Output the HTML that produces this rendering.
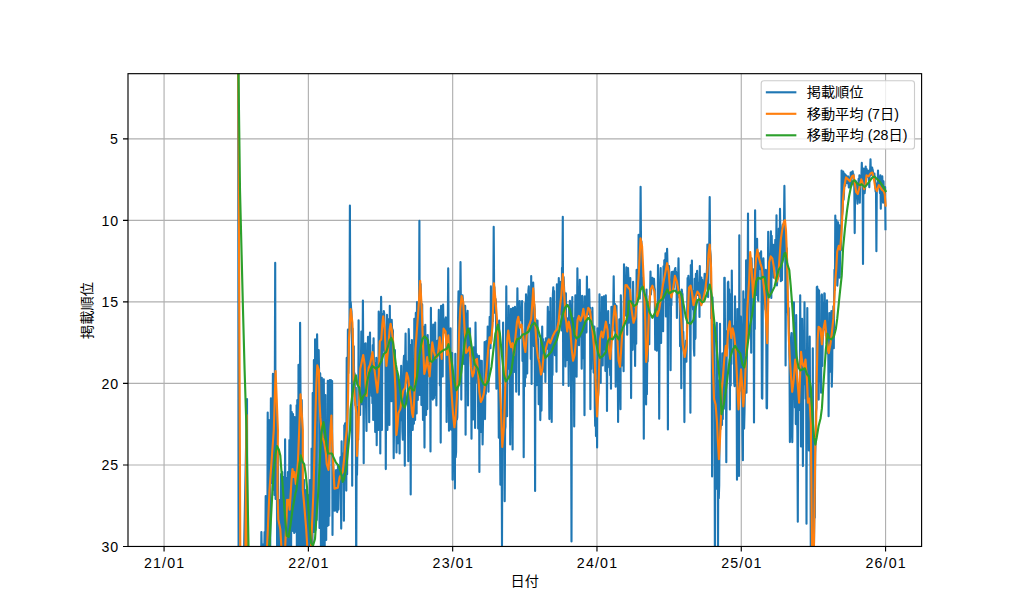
<!DOCTYPE html>
<html lang="ja"><head><meta charset="utf-8"><title>掲載順位</title>
<style>html,body{margin:0;padding:0;background:#fff;}body{width:1024px;height:614px;overflow:hidden;}svg{display:block;}text{font-family:"Liberation Sans", "Noto Sans CJK JP", sans-serif;font-size:14.2px;fill:#000;}</style></head><body>
<svg width="1024" height="614" viewBox="0 0 1024 614">
<rect width="1024" height="614" fill="#fff"/>
<defs><clipPath id="c"><rect x="128.00" y="73.68" width="793.60" height="472.78"/></clipPath></defs>
<path d="M164.07 73.68V546.46M308.37 73.68V546.46M452.67 73.68V546.46M596.97 73.68V546.46M741.27 73.68V546.46M885.57 73.68V546.46M128.00 138.89H921.60M128.00 220.40H921.60M128.00 301.92H921.60M128.00 383.43H921.60M128.00 464.95H921.60" stroke="#b0b0b0" stroke-width="1.14" fill="none"/>
<path d="M164.07 546.46v5M308.37 546.46v5M452.67 546.46v5M596.97 546.46v5M741.27 546.46v5M885.57 546.46v5M128.00 138.89h-5M128.00 220.40h-5M128.00 301.92h-5M128.00 383.43h-5M128.00 464.95h-5M128.00 546.46h-5" stroke="#000" stroke-width="1.14" fill="none"/>
<g clip-path="url(#c)" fill="none" stroke-width="2.13" stroke-linejoin="round" stroke-linecap="butt">
<polyline stroke="#1f77b4" points="238.2,73.0 238.6,575.0 243.6,575.0 247.0,399.0 247.3,575.0 260.8,575.0 261.0,575.0 261.4,532.0 261.8,553.0 262.2,549.4 262.6,547.9 263.0,544.5 263.4,553.8 263.8,545.1 264.2,555.5 264.6,532.0 264.9,575.0 265.3,549.9 265.7,496.0 266.1,548.5 266.5,575.0 266.9,546.4 267.3,563.7 267.7,412.5 268.1,575.0 268.5,524.3 268.9,420.0 269.3,501.7 269.7,485.7 270.1,575.0 270.5,476.5 270.9,398.3 271.3,483.0 271.7,456.6 272.1,408.0 272.5,483.0 272.9,373.9 273.2,440.4 273.6,490.0 274.0,382.0 274.4,495.0 274.8,394.3 275.2,262.7 275.6,499.0 276.0,398.6 276.4,419.6 276.8,443.9 277.2,575.0 277.6,461.6 278.0,451.3 278.4,575.0 278.8,525.5 279.2,529.7 279.6,500.0 280.0,529.6 280.4,575.0 280.8,531.2 281.1,474.0 281.5,575.0 281.9,567.1 282.3,472.0 282.7,580.8 283.1,575.0 283.5,477.0 283.9,581.1 284.3,575.0 284.7,573.1 285.1,439.3 285.5,532.1 285.9,575.0 286.3,517.8 286.7,478.0 287.1,575.0 287.5,500.7 287.9,472.0 288.3,499.6 288.6,575.0 289.0,511.7 289.4,440.0 289.8,575.0 290.2,496.8 290.6,405.2 291.0,575.0 291.4,478.5 291.8,412.0 292.2,531.0 292.6,474.8 293.0,414.0 293.4,475.6 293.8,478.4 294.2,533.0 294.6,417.0 295.0,482.3 295.4,485.0 295.8,481.3 296.2,532.0 296.6,405.2 296.9,575.0 297.3,400.0 297.7,472.5 298.1,575.0 298.5,364.7 298.9,431.6 299.3,575.0 299.7,535.0 300.1,322.7 300.5,392.1 300.9,575.0 301.3,408.7 301.7,400.0 302.1,420.1 302.5,575.0 302.9,493.9 303.3,493.9 303.7,492.5 304.1,480.0 304.4,507.5 304.8,575.0 305.2,516.5 305.6,514.5 306.0,490.0 306.4,537.0 306.8,575.0 307.2,546.6 307.6,556.6 308.0,495.0 308.4,572.1 308.8,575.4 309.2,575.0 309.6,579.4 310.0,480.0 310.4,575.3 310.8,575.0 311.2,541.1 311.6,448.6 312.0,522.9 312.4,575.0 312.7,393.0 313.1,501.5 313.5,532.0 313.9,360.0 314.3,532.0 314.7,444.1 315.1,339.3 315.5,530.0 315.9,345.0 316.3,384.9 316.7,520.0 317.1,334.4 317.5,367.7 317.9,371.5 318.3,368.0 318.7,350.0 319.1,373.5 319.5,528.0 319.9,413.9 320.2,373.4 320.6,418.8 321.0,575.0 321.4,430.5 321.8,377.8 322.2,441.6 322.6,433.1 323.0,575.0 323.4,435.7 323.8,379.3 324.2,442.6 324.6,575.0 325.0,448.6 325.4,395.0 325.8,459.2 326.2,540.0 326.6,460.7 327.0,459.5 327.4,526.0 327.8,380.8 328.1,424.9 328.5,525.2 328.9,481.0 329.3,515.9 329.7,380.0 330.1,415.5 330.5,424.8 330.9,380.0 331.3,410.2 331.7,422.1 332.1,381.0 332.5,535.0 332.9,455.7 333.3,469.1 333.7,471.4 334.1,478.0 334.5,510.8 334.9,475.1 335.3,507.9 335.7,510.5 336.1,470.0 336.4,485.4 336.8,481.6 337.2,512.1 337.6,491.4 338.0,465.0 338.4,509.6 338.8,485.2 339.2,476.7 339.6,483.3 340.0,480.8 340.4,457.4 340.8,474.6 341.2,528.6 341.6,441.2 342.0,475.5 342.4,470.1 342.8,453.5 343.2,474.3 343.6,463.0 343.9,520.8 344.3,425.2 344.7,432.4 345.1,423.4 345.5,437.0 345.9,438.7 346.3,490.6 346.7,357.9 347.1,474.2 347.5,411.5 347.9,329.6 348.3,373.3 348.7,355.5 349.1,335.0 349.5,330.4 349.9,205.6 350.3,314.0 350.7,302.0 351.1,308.3 351.5,311.2 351.9,324.5 352.2,485.7 352.6,328.5 353.0,345.5 353.4,366.2 353.8,346.2 354.2,391.3 354.6,373.3 355.0,401.4 355.4,405.4 355.8,387.6 356.2,575.0 356.6,460.5 357.0,475.0 357.4,449.6 357.8,406.8 358.2,439.8 358.6,320.3 359.0,413.1 359.4,392.1 359.8,391.7 360.1,415.0 360.5,373.5 360.9,367.7 361.3,331.5 361.7,404.2 362.1,352.7 362.5,373.6 362.9,300.5 363.3,360.4 363.7,463.2 364.1,343.5 364.5,360.4 364.9,351.4 365.3,376.5 365.7,343.2 366.1,408.1 366.5,431.0 366.9,369.8 367.3,359.9 367.6,386.2 368.0,336.9 368.4,367.9 368.8,360.1 369.2,422.3 369.6,343.1 370.0,332.5 370.4,378.7 370.8,362.6 371.2,383.6 371.6,395.9 372.0,353.5 372.4,403.3 372.8,345.1 373.2,420.0 373.6,338.3 374.0,370.9 374.4,386.8 374.8,362.7 375.2,432.0 375.6,365.5 375.9,383.2 376.3,357.9 376.7,445.2 377.1,388.5 377.5,406.5 377.9,414.8 378.3,430.0 378.7,311.5 379.1,320.9 379.5,338.1 379.9,342.6 380.3,453.5 380.7,337.5 381.1,296.9 381.5,326.6 381.9,430.0 382.3,347.4 382.7,317.0 383.1,313.8 383.4,349.6 383.8,311.0 384.2,313.1 384.6,352.0 385.0,335.8 385.4,347.2 385.8,469.1 386.2,362.0 386.6,333.8 387.0,314.9 387.4,430.0 387.8,382.2 388.2,352.3 388.6,319.3 389.0,326.8 389.4,425.0 389.8,305.7 390.2,362.9 390.6,323.4 391.0,325.6 391.4,401.3 391.7,319.8 392.1,329.6 392.5,329.2 392.9,330.5 393.3,391.8 393.7,458.3 394.1,416.1 394.5,404.4 394.9,350.0 395.3,380.4 395.7,418.0 396.1,383.1 396.5,452.5 396.9,372.0 397.3,443.4 397.7,443.3 398.1,440.2 398.5,414.0 398.9,380.0 399.2,416.9 399.6,453.5 400.0,410.1 400.4,420.2 400.8,389.4 401.2,365.7 401.6,389.4 402.0,402.6 402.4,431.3 402.8,439.8 403.2,407.8 403.6,362.9 404.0,355.9 404.4,382.9 404.8,465.7 405.2,359.9 405.6,333.5 406.0,382.0 406.4,361.1 406.8,377.1 407.1,374.2 407.5,377.7 407.9,376.1 408.3,461.3 408.7,329.1 409.1,339.5 409.5,391.8 409.9,396.3 410.3,345.0 410.7,494.4 411.1,382.8 411.5,389.8 411.9,340.0 412.3,412.0 412.7,430.0 413.1,415.6 413.5,391.2 413.9,423.8 414.3,318.8 414.7,401.9 415.1,420.0 415.4,387.0 415.8,312.9 416.2,340.1 416.6,413.5 417.0,302.0 417.4,310.6 417.8,400.0 418.2,338.6 418.6,305.9 419.0,342.5 419.4,220.9 419.8,395.0 420.2,315.7 420.6,284.1 421.0,300.0 421.4,405.0 421.8,308.6 422.2,304.4 422.6,380.0 423.0,420.0 423.3,330.0 423.7,326.9 424.1,374.8 424.5,447.6 424.9,366.2 425.3,324.7 425.7,364.5 426.1,415.0 426.5,362.3 426.9,356.1 427.3,409.1 427.7,335.0 428.1,363.3 428.5,364.0 428.9,344.8 429.3,374.5 429.7,376.2 430.1,371.6 430.5,451.4 430.9,307.9 431.2,351.7 431.6,352.6 432.0,349.7 432.4,373.4 432.8,399.6 433.2,324.5 433.6,349.0 434.0,398.1 434.4,351.4 434.8,394.1 435.2,322.6 435.6,394.9 436.0,373.5 436.4,405.4 436.8,343.9 437.2,340.9 437.6,355.3 438.0,354.4 438.4,349.6 438.8,309.9 439.1,334.2 439.5,327.1 439.9,385.5 440.3,344.5 440.7,442.6 441.1,305.9 441.5,358.6 441.9,328.3 442.3,325.7 442.7,376.4 443.1,304.6 443.5,329.0 443.9,326.4 444.3,326.3 444.7,332.5 445.1,330.7 445.5,318.7 445.9,317.4 446.3,342.6 446.6,422.0 447.0,379.4 447.4,352.5 447.8,326.8 448.2,268.4 448.6,332.4 449.0,430.8 449.4,362.0 449.8,365.3 450.2,403.0 450.6,328.4 451.0,429.6 451.4,362.5 451.8,397.2 452.2,353.0 452.6,479.7 453.0,407.5 453.4,425.3 453.8,416.6 454.2,381.2 454.6,444.0 454.9,488.5 455.3,353.8 455.7,457.1 456.1,452.0 456.5,394.8 456.9,419.6 457.3,417.1 457.7,395.9 458.1,316.5 458.5,291.3 458.9,334.7 459.3,381.5 459.7,301.8 460.1,313.0 460.5,262.0 460.9,303.2 461.3,399.6 461.7,302.4 462.1,298.9 462.5,295.4 462.8,299.1 463.2,304.5 463.6,306.3 464.0,364.0 464.4,325.2 464.8,337.1 465.2,305.9 465.6,434.7 466.0,323.2 466.4,352.1 466.8,313.2 467.2,354.6 467.6,310.8 468.0,405.4 468.4,335.0 468.8,341.0 469.2,351.0 469.6,347.1 470.0,328.4 470.4,355.7 470.7,348.3 471.1,348.2 471.5,438.7 471.9,371.4 472.3,378.1 472.7,368.9 473.1,419.5 473.5,347.2 473.9,388.2 474.3,393.1 474.7,373.3 475.1,427.9 475.5,322.6 475.9,355.6 476.3,356.9 476.7,354.1 477.1,356.6 477.5,382.8 477.9,363.6 478.2,428.5 478.6,397.8 479.0,355.8 479.4,471.9 479.8,360.2 480.2,364.7 480.6,370.3 481.0,432.0 481.4,366.4 481.8,360.7 482.2,405.6 482.6,444.5 483.0,420.0 483.4,391.1 483.8,389.3 484.2,387.5 484.6,342.1 485.0,419.1 485.4,385.6 485.8,394.0 486.1,385.9 486.5,340.8 486.9,365.9 487.3,359.9 487.7,326.5 488.1,342.0 488.5,391.7 488.9,343.0 489.3,338.0 489.7,316.7 490.1,326.9 490.5,348.3 490.9,286.4 491.3,341.1 491.7,335.0 492.1,326.1 492.5,318.6 492.9,321.3 493.3,308.9 493.7,226.8 494.1,289.3 494.4,287.0 494.8,312.7 495.2,301.9 495.6,299.0 496.0,303.3 496.4,388.8 496.8,318.7 497.2,323.6 497.6,333.4 498.0,369.5 498.4,374.0 498.8,437.7 499.2,320.6 499.6,374.3 500.0,431.5 500.4,484.8 500.8,410.9 501.2,420.1 501.6,428.9 502.0,545.8 502.3,444.1 502.7,445.4 503.1,322.6 503.5,431.3 503.9,387.2 504.3,413.0 504.7,501.2 505.1,429.7 505.5,426.5 505.9,368.2 506.3,286.4 506.7,356.0 507.1,416.2 507.5,365.3 507.9,338.7 508.3,368.7 508.7,305.9 509.1,337.3 509.5,338.3 509.9,337.2 510.2,444.5 510.6,352.5 511.0,308.9 511.4,340.5 511.8,344.6 512.2,370.9 512.6,449.4 513.0,307.9 513.4,348.7 513.8,358.1 514.2,372.0 514.6,341.3 515.0,306.9 515.4,329.7 515.8,321.9 516.2,391.7 516.6,309.3 517.0,326.6 517.4,288.3 517.8,320.8 518.1,316.6 518.5,305.3 518.9,394.7 519.3,312.4 519.7,301.1 520.1,318.4 520.5,315.0 520.9,319.1 521.3,320.4 521.7,320.5 522.1,301.1 522.5,361.0 522.9,335.5 523.3,335.0 523.7,457.2 524.1,340.7 524.5,383.0 524.9,386.3 525.3,303.0 525.7,377.6 526.0,294.2 526.4,299.3 526.8,340.7 527.2,373.4 527.6,328.2 528.0,327.6 528.4,290.9 528.8,286.4 529.2,306.9 529.6,322.2 530.0,296.2 530.4,315.6 530.8,358.9 531.2,276.0 531.6,383.9 532.0,288.3 532.4,305.5 532.8,301.1 533.2,282.5 533.5,293.3 533.9,346.2 534.3,304.0 534.7,309.9 535.1,491.0 535.5,318.7 535.9,355.7 536.3,341.0 536.7,385.3 537.1,352.4 537.5,320.6 537.9,352.3 538.3,339.4 538.7,404.2 539.1,359.7 539.5,360.1 539.9,362.7 540.3,420.1 540.7,377.0 541.1,336.4 541.5,410.6 541.8,371.8 542.2,326.5 542.6,363.2 543.0,339.0 543.4,362.1 543.8,362.4 544.2,371.9 544.6,351.5 545.0,342.1 545.4,382.0 545.8,338.2 546.2,347.0 546.6,343.8 547.0,348.8 547.4,338.1 547.8,306.9 548.2,344.9 548.6,347.5 549.0,378.5 549.4,419.1 549.7,311.5 550.1,336.0 550.5,298.1 550.9,378.1 551.3,376.4 551.7,422.0 552.1,335.6 552.5,374.9 552.9,294.4 553.3,287.4 553.7,335.2 554.1,291.0 554.5,349.9 554.9,355.2 555.3,331.4 555.7,335.5 556.1,334.8 556.5,371.7 556.9,284.4 557.2,334.5 557.6,323.3 558.0,324.9 558.4,317.6 558.8,278.0 559.2,314.8 559.6,282.5 560.0,308.5 560.4,288.0 560.8,281.8 561.2,296.9 561.6,330.4 562.0,267.8 562.4,277.0 562.8,216.8 563.2,384.9 563.6,277.1 564.0,286.4 564.4,295.4 564.8,349.3 565.2,317.3 565.5,366.5 565.9,293.2 566.3,353.7 566.7,360.1 567.1,319.2 567.5,328.4 567.9,318.2 568.3,321.0 568.7,385.9 569.1,305.0 569.5,328.5 569.9,300.8 570.3,315.3 570.7,309.4 571.1,392.8 571.5,541.5 571.9,317.1 572.3,297.1 572.7,353.2 573.0,361.2 573.4,318.1 573.8,356.4 574.2,426.5 574.6,355.3 575.0,331.1 575.4,295.2 575.8,341.3 576.2,339.0 576.6,376.8 577.0,327.7 577.4,268.2 577.8,311.4 578.2,341.9 578.6,310.5 579.0,345.3 579.4,311.2 579.8,279.9 580.2,324.0 580.6,321.9 581.0,336.9 581.3,318.5 581.7,368.7 582.1,295.8 582.5,296.2 582.9,310.9 583.3,358.3 583.7,310.9 584.1,309.9 584.5,415.2 584.9,296.2 585.3,322.0 585.7,321.7 586.1,319.1 586.5,332.4 586.9,276.6 587.3,306.6 587.7,306.0 588.1,314.5 588.5,301.5 588.9,306.1 589.2,289.3 589.6,307.6 590.0,307.6 590.4,409.3 590.8,312.0 591.2,369.0 591.6,318.5 592.0,355.5 592.4,307.9 592.8,334.4 593.2,345.8 593.6,372.6 594.0,362.1 594.4,326.5 594.8,408.1 595.2,425.9 595.6,380.0 596.0,436.1 596.4,399.7 596.8,406.8 597.1,447.4 597.5,328.4 597.9,397.4 598.3,392.9 598.7,382.7 599.1,362.4 599.5,294.2 599.9,376.4 600.3,342.2 600.7,382.9 601.1,315.1 601.5,335.0 601.9,297.1 602.3,335.7 602.7,365.4 603.1,315.8 603.5,327.9 603.9,296.2 604.3,349.5 604.7,302.6 605.0,311.7 605.4,371.0 605.8,295.2 606.2,324.4 606.6,326.1 607.0,410.9 607.4,328.4 607.8,367.4 608.2,311.1 608.6,345.0 609.0,324.5 609.4,348.0 609.8,358.8 610.2,375.2 610.6,352.9 611.0,388.8 611.4,306.9 611.8,339.5 612.2,317.6 612.5,319.0 612.9,325.7 613.3,308.8 613.7,276.2 614.1,310.9 614.5,330.5 614.9,303.7 615.3,305.5 615.7,386.8 616.1,316.8 616.5,305.9 616.9,351.6 617.3,340.6 617.7,345.1 618.1,422.0 618.5,339.2 618.9,381.7 619.3,319.4 619.7,325.9 620.1,385.8 620.5,409.3 620.8,295.2 621.2,307.9 621.6,362.0 622.0,344.9 622.4,365.4 622.8,328.1 623.2,329.8 623.6,371.3 624.0,264.3 624.4,304.8 624.8,289.0 625.2,315.5 625.6,281.7 626.0,288.6 626.4,267.4 626.8,306.7 627.2,334.7 627.6,306.0 628.0,268.0 628.4,276.9 628.7,322.7 629.1,287.8 629.5,291.6 629.9,288.8 630.3,278.1 630.7,323.2 631.1,398.1 631.5,302.8 631.9,312.0 632.3,347.6 632.7,349.8 633.1,281.8 633.5,302.2 633.9,317.5 634.3,327.5 634.7,321.7 635.1,366.0 635.5,315.4 635.9,307.0 636.2,343.7 636.6,269.9 637.0,299.7 637.4,296.5 637.8,288.2 638.2,281.3 638.6,234.7 639.0,263.5 639.4,258.2 639.8,298.6 640.2,250.3 640.6,186.8 641.0,242.4 641.4,241.3 641.8,277.8 642.2,287.7 642.6,277.8 643.0,280.9 643.4,301.3 643.8,438.7 644.2,293.8 644.5,305.7 644.9,327.0 645.3,325.7 645.7,303.8 646.1,404.5 646.5,289.5 646.9,394.2 647.3,349.7 647.7,361.6 648.1,339.1 648.5,326.4 648.9,301.9 649.3,344.2 649.7,296.0 650.1,294.7 650.5,271.5 650.9,294.4 651.3,288.5 651.7,281.0 652.0,281.1 652.4,277.8 652.8,282.1 653.2,278.7 653.6,284.9 654.0,278.7 654.4,287.1 654.8,289.5 655.2,349.8 655.6,309.2 656.0,306.9 656.4,310.2 656.8,350.7 657.2,304.1 657.6,317.8 658.0,265.0 658.4,317.7 658.8,312.4 659.2,418.8 659.6,307.9 660.0,306.6 660.3,279.9 660.7,268.0 661.1,343.0 661.5,294.4 661.9,294.1 662.3,294.8 662.7,328.7 663.1,331.2 663.5,266.2 663.9,298.0 664.3,260.2 664.7,270.2 665.1,293.5 665.5,253.3 665.9,316.4 666.3,263.8 666.7,261.4 667.1,248.8 667.5,265.0 667.9,429.5 668.2,276.8 668.6,267.8 669.0,266.0 669.4,274.7 669.8,286.2 670.2,287.3 670.6,370.3 671.0,301.2 671.4,305.2 671.8,272.0 672.2,284.1 672.6,271.9 673.0,291.7 673.4,271.8 673.8,288.0 674.2,283.6 674.6,271.5 675.0,268.9 675.4,268.0 675.8,279.9 676.1,271.9 676.5,275.2 676.9,317.9 677.3,278.6 677.7,289.3 678.1,283.0 678.5,258.2 678.9,286.8 679.3,297.7 679.7,294.1 680.1,346.3 680.5,308.1 680.9,311.2 681.3,388.3 681.7,289.5 682.1,292.4 682.5,294.4 682.9,344.1 683.3,331.9 683.7,348.9 684.0,351.8 684.4,422.1 684.8,355.4 685.2,356.9 685.6,352.9 686.0,340.6 686.4,361.8 686.8,345.9 687.2,310.3 687.6,278.1 688.0,289.5 688.4,275.8 688.8,283.4 689.2,290.0 689.6,285.6 690.0,291.5 690.4,412.7 690.8,265.0 691.2,291.1 691.5,291.7 691.9,260.5 692.3,291.1 692.7,304.0 693.1,309.6 693.5,291.0 693.9,348.7 694.3,355.6 694.7,278.7 695.1,339.1 695.5,338.0 695.9,273.8 696.3,288.3 696.7,295.2 697.1,270.9 697.5,282.2 697.9,287.4 698.3,294.9 698.7,289.0 699.1,284.9 699.5,316.9 699.8,266.0 700.2,300.8 700.6,303.0 701.0,304.4 701.4,277.5 701.8,302.0 702.2,279.7 702.6,301.6 703.0,293.7 703.4,299.5 703.8,282.6 704.2,289.0 704.6,273.8 705.0,282.2 705.4,289.4 705.8,282.6 706.2,275.4 706.6,275.0 707.0,268.6 707.4,244.5 707.7,260.4 708.1,297.1 708.5,262.0 708.9,251.7 709.3,242.6 709.7,197.0 710.1,249.6 710.5,253.8 710.9,260.2 711.3,318.6 711.7,308.1 712.1,476.5 712.5,297.3 712.9,386.5 713.3,374.7 713.7,367.2 714.1,324.7 714.5,403.4 714.9,555.1 715.2,407.2 715.6,403.8 716.0,412.2 716.4,488.6 716.8,322.8 717.2,388.9 717.6,380.1 718.0,555.1 718.4,428.2 718.8,498.2 719.2,484.9 719.6,419.7 720.0,323.8 720.4,429.2 720.8,424.4 721.2,403.1 721.6,400.5 722.0,424.9 722.4,353.3 722.8,419.1 723.2,375.7 723.5,364.1 723.9,408.7 724.3,277.8 724.7,277.8 725.1,352.5 725.5,348.1 725.9,331.0 726.3,462.2 726.7,352.3 727.1,348.1 727.5,337.9 727.9,282.6 728.3,281.7 728.7,330.0 729.1,289.2 729.5,305.2 729.9,409.4 730.3,294.5 730.7,385.5 731.0,328.4 731.4,364.0 731.8,270.5 732.2,324.1 732.6,328.0 733.0,330.7 733.4,332.9 733.8,326.3 734.2,382.6 734.6,386.1 735.0,296.3 735.4,340.6 735.8,322.1 736.2,384.6 736.6,368.2 737.0,479.8 737.4,309.1 737.8,400.1 738.2,399.4 738.6,371.4 739.0,475.9 739.3,235.3 739.7,390.9 740.1,348.4 740.5,342.1 740.9,316.6 741.3,332.1 741.7,373.4 742.1,385.5 742.5,436.4 742.9,460.2 743.3,291.4 743.7,364.7 744.1,428.6 744.5,411.5 744.9,384.9 745.3,299.3 745.7,364.2 746.1,260.2 746.5,392.8 746.9,351.6 747.2,282.7 747.6,309.5 748.0,213.6 748.4,338.4 748.8,272.5 749.2,273.6 749.6,268.8 750.0,257.1 750.4,261.7 750.8,289.0 751.2,352.7 751.6,258.2 752.0,276.2 752.4,287.2 752.8,290.1 753.2,294.9 753.6,269.3 754.0,422.5 754.4,274.2 754.8,329.1 755.1,210.3 755.5,269.0 755.9,261.6 756.3,253.7 756.7,294.9 757.1,238.7 757.5,281.9 757.9,299.2 758.3,300.7 758.7,257.6 759.1,257.0 759.5,253.4 759.9,259.2 760.3,261.4 760.7,269.5 761.1,251.4 761.5,289.8 761.9,398.1 762.3,398.6 762.7,321.7 763.0,267.8 763.4,258.2 763.8,269.5 764.2,289.2 764.6,293.2 765.0,304.8 765.4,309.4 765.8,269.9 766.2,316.3 766.6,408.0 767.0,408.3 767.4,362.2 767.8,290.7 768.2,231.8 768.6,289.9 769.0,290.4 769.4,254.6 769.8,256.9 770.2,295.8 770.5,255.6 770.9,231.4 771.3,297.9 771.7,235.8 772.1,261.5 772.5,262.2 772.9,258.2 773.3,244.9 773.7,277.8 774.1,275.1 774.5,270.9 774.9,253.9 775.3,239.7 775.7,265.5 776.1,259.1 776.5,215.2 776.9,285.5 777.3,280.2 777.7,278.5 778.1,273.4 778.5,276.6 778.8,228.6 779.2,230.4 779.6,262.3 780.0,208.9 780.4,234.5 780.8,281.2 781.2,231.9 781.6,234.4 782.0,280.2 782.4,228.9 782.8,224.5 783.2,256.4 783.6,225.4 784.0,225.1 784.4,185.9 784.8,226.8 785.2,229.4 785.6,365.4 786.0,249.0 786.4,276.9 786.7,248.4 787.1,263.0 787.5,312.2 787.9,299.6 788.3,315.0 788.7,308.1 789.1,341.1 789.5,360.7 789.9,442.1 790.3,399.0 790.7,388.3 791.1,338.4 791.5,333.0 791.9,432.8 792.3,442.1 792.7,408.1 793.1,349.0 793.5,377.2 793.9,302.3 794.2,377.1 794.6,370.5 795.0,407.6 795.4,323.1 795.8,424.1 796.2,315.0 796.6,367.2 797.0,404.8 797.4,433.1 797.8,521.8 798.2,385.1 798.6,400.6 799.0,404.3 799.4,398.5 799.8,409.9 800.2,295.3 800.6,361.0 801.0,446.5 801.4,360.7 801.8,349.5 802.1,318.9 802.5,358.7 802.9,466.1 803.3,365.2 803.7,368.1 804.1,384.1 804.5,302.3 804.9,358.2 805.3,369.1 805.7,398.7 806.1,350.2 806.5,523.8 806.9,376.2 807.3,308.1 807.7,389.8 808.1,426.4 808.5,353.9 808.9,450.5 809.3,398.7 809.7,336.5 810.1,407.0 810.4,414.5 810.8,555.1 811.2,447.3 811.6,521.7 812.0,553.3 812.4,560.4 812.8,348.2 813.2,519.4 813.6,565.6 814.0,543.7 814.4,506.3 814.8,517.7 815.2,452.8 815.6,441.0 816.0,411.6 816.4,407.7 816.8,287.1 817.2,286.6 817.6,344.0 818.0,367.8 818.3,289.6 818.7,399.6 819.1,290.5 819.5,381.5 819.9,330.1 820.3,332.5 820.7,335.6 821.1,392.7 821.5,295.3 821.9,294.4 822.3,366.0 822.7,341.0 823.1,330.7 823.5,302.5 823.9,329.5 824.3,293.4 824.7,293.5 825.1,323.8 825.5,317.7 825.9,335.8 826.2,322.4 826.6,343.6 827.0,300.3 827.4,353.5 827.8,351.0 828.2,327.5 828.6,416.2 829.0,348.6 829.4,313.0 829.8,346.1 830.2,336.5 830.6,371.7 831.0,332.6 831.4,311.1 831.8,386.8 832.2,366.6 832.6,315.4 833.0,346.8 833.4,306.2 833.8,348.2 834.1,303.0 834.5,269.8 834.9,290.1 835.3,215.5 835.7,269.5 836.1,252.9 836.5,220.4 836.9,255.7 837.3,285.6 837.7,278.8 838.1,222.3 838.5,241.2 838.9,241.4 839.3,225.3 839.7,277.8 840.1,252.4 840.5,242.2 840.9,250.2 841.3,236.2 841.6,170.5 842.0,215.6 842.4,212.4 842.8,208.9 843.2,171.5 843.6,199.6 844.0,193.1 844.4,173.5 844.8,174.2 845.2,185.7 845.6,179.2 846.0,175.4 846.4,177.8 846.8,177.3 847.2,183.2 847.6,179.5 848.0,176.4 848.4,177.0 848.8,187.5 849.2,184.4 849.6,182.8 849.9,187.3 850.3,185.8 850.7,172.5 851.1,183.4 851.5,172.3 851.9,175.3 852.3,174.1 852.7,171.3 853.1,176.2 853.5,174.4 853.9,182.8 854.3,185.8 854.7,233.1 855.1,185.4 855.5,188.8 855.9,181.3 856.3,196.6 856.7,183.4 857.1,198.1 857.5,203.8 857.8,190.6 858.2,191.6 858.6,178.7 859.0,193.7 859.4,175.4 859.8,202.8 860.2,181.5 860.6,179.6 861.0,180.0 861.4,176.2 861.8,162.7 862.2,178.5 862.6,178.0 863.0,264.0 863.4,180.8 863.8,168.6 864.2,190.8 864.6,193.2 865.0,188.9 865.4,184.2 865.7,166.6 866.1,176.3 866.5,168.9 866.9,175.0 867.3,172.4 867.7,170.5 868.1,177.1 868.5,175.7 868.9,180.7 869.3,187.1 869.7,170.4 870.1,171.6 870.5,159.4 870.9,175.3 871.3,167.9 871.7,169.6 872.1,167.5 872.5,169.6 872.9,171.0 873.2,178.1 873.6,175.8 874.0,174.4 874.4,173.5 874.8,179.3 875.2,184.2 875.6,191.4 876.0,187.9 876.4,251.3 876.8,183.3 877.2,183.8 877.6,186.5 878.0,170.5 878.4,185.6 878.8,179.5 879.2,176.7 879.6,188.5 880.0,193.2 880.4,175.4 880.8,208.7 881.1,179.4 881.5,180.1 881.9,194.7 882.3,176.4 882.7,196.3 883.1,202.8 883.5,181.3 883.9,192.7 884.3,198.8 884.7,195.2 885.1,187.1 885.5,230.2"/>
<polyline stroke="#ff7f0e" points="238.3,73.0 240.4,575.0 245.2,575.0 246.6,415.0 247.5,575.0 267.1,575.0 267.1,546.0 269.5,490.0 273.8,430.0 275.6,371.0 277.9,430.0 277.4,490.0 278.3,519.3 280.3,529.1 281.3,545.7 282.0,575.0 284.8,575.0 285.2,546.0 286.7,514.4 287.1,499.8 288.1,504.7 288.6,499.8 289.6,509.6 290.6,494.9 291.5,480.0 292.5,469.0 293.5,477.0 294.5,472.0 295.8,484.0 297.0,474.0 297.9,462.0 298.6,445.0 299.2,430.0 300.5,394.4 302.8,430.0 302.8,490.0 304.2,504.7 306.2,529.1 307.2,545.7 308.0,575.0 310.7,575.0 311.1,546.0 313.5,490.0 315.0,430.0 316.3,385.0 317.3,365.3 318.9,370.0 319.4,399.3 320.4,417.9 321.4,428.7 322.8,438.0 324.3,443.0 325.8,452.5 326.7,464.0 328.5,470.0 329.5,455.0 330.4,430.0 331.4,415.5 332.4,444.7 333.4,469.0 334.5,488.6 337.8,487.7 339.7,477.0 342.7,472.0 344.1,459.3 345.6,439.8 346.8,430.0 348.0,399.3 348.5,370.0 349.0,339.3 350.7,309.0 352.4,322.7 353.2,349.1 353.6,380.0 354.9,399.3 356.3,413.0 357.0,456.0 358.3,430.0 359.3,399.3 360.3,368.7 363.2,355.0 364.7,364.7 365.6,384.7 366.6,395.9 367.6,379.8 368.6,368.0 370.0,364.7 372.5,352.0 373.9,365.0 375.9,381.0 377.4,392.5 378.8,375.0 379.8,341.3 381.3,339.3 382.3,324.7 383.2,316.4 384.7,329.6 386.4,366.0 388.0,350.0 389.6,330.0 390.6,323.7 391.8,330.0 393.0,340.0 394.5,370.0 395.5,389.6 396.4,435.0 397.6,424.7 398.4,413.0 400.3,409.1 401.8,399.3 403.3,390.5 405.2,387.6 406.7,372.9 408.2,377.8 409.6,389.6 411.1,402.3 412.1,413.0 413.0,416.9 414.0,404.2 415.0,379.8 415.5,349.0 416.5,335.4 418.4,310.0 420.2,280.9 421.8,310.0 422.8,339.3 424.3,373.9 425.8,367.7 427.2,357.0 428.0,364.7 429.6,376.5 430.9,358.9 432.3,342.3 433.9,352.0 435.8,357.9 437.8,355.9 439.7,337.4 441.7,358.9 443.6,328.6 445.6,331.5 447.0,355.0 448.3,335.4 449.9,364.7 451.5,392.1 453.0,413.6 454.4,427.3 455.4,419.5 456.9,398.0 458.3,358.9 459.3,328.6 460.3,308.8 461.6,296.1 463.2,302.0 464.6,329.6 466.1,353.0 468.1,350.1 469.6,347.1 471.0,366.7 472.6,376.5 473.9,372.6 475.3,360.8 476.9,358.9 478.2,374.5 479.4,392.1 480.8,401.9 482.3,399.0 483.7,394.1 485.1,384.3 486.7,368.7 488.2,349.1 489.6,337.4 491.0,343.2 492.5,325.6 493.9,283.4 495.4,299.1 496.8,316.8 498.0,339.3 499.4,374.5 500.7,403.8 502.3,446.9 503.9,427.3 504.6,407.8 505.8,368.7 507.2,339.3 508.2,330.5 509.7,341.3 511.1,347.1 512.5,343.2 514.0,355.0 515.6,335.4 517.0,321.7 518.3,316.8 519.9,327.6 521.5,324.7 522.8,333.5 524.2,345.2 525.4,352.0 526.7,335.4 528.1,327.6 529.7,323.7 531.2,318.8 532.6,299.1 533.2,288.3 534.5,308.8 535.1,321.7 536.5,345.2 537.9,356.9 539.4,362.8 541.0,374.5 542.4,368.7 543.7,355.0 545.3,351.1 547.3,343.2 548.8,339.3 550.2,343.2 551.6,339.3 553.1,335.4 555.1,331.5 557.0,329.6 558.6,321.7 560.0,306.9 561.3,295.1 562.9,274.0 564.3,295.1 565.4,316.8 566.2,321.7 567.2,331.5 568.8,321.7 570.3,329.6 571.7,349.1 573.1,360.8 574.6,355.0 576.2,337.4 577.6,319.8 578.9,315.9 580.5,320.8 582.1,315.9 583.4,308.8 585.4,321.7 586.7,315.9 588.3,307.8 589.9,310.0 591.2,319.8 592.6,331.5 594.2,349.1 595.7,384.3 597.1,416.5 598.5,388.2 600.0,339.3 601.6,331.5 603.0,337.4 604.5,329.6 605.9,321.7 607.5,329.6 608.8,349.1 610.2,358.9 611.8,339.3 613.3,319.8 614.7,305.9 616.1,315.9 617.2,335.4 618.6,360.8 620.0,366.7 621.2,349.1 622.5,329.6 623.9,321.7 624.5,299.1 625.5,285.0 627.0,285.4 628.0,287.3 630.0,289.6 631.5,309.1 633.5,322.8 635.4,316.9 636.8,299.3 638.8,273.9 640.5,238.3 642.1,246.5 643.6,277.8 645.2,318.9 646.2,361.9 647.6,348.2 649.1,309.1 650.5,289.6 652.4,285.6 654.4,291.5 655.8,309.1 657.3,315.9 659.3,309.1 660.8,299.3 662.8,285.6 665.1,273.9 667.1,263.2 668.7,272.0 670.0,289.6 671.4,297.4 673.0,289.6 674.9,275.9 676.9,281.7 678.4,289.6 679.8,299.3 681.2,318.9 682.7,344.3 684.7,357.0 686.7,344.3 687.6,318.9 689.0,287.6 690.6,285.6 692.1,293.5 693.5,305.2 695.4,297.4 697.4,291.5 699.4,294.4 701.3,305.2 703.3,299.3 705.2,289.6 707.2,273.9 708.5,254.4 709.7,244.6 711.1,268.0 712.1,340.0 713.0,369.3 714.0,398.6 715.6,404.5 717.0,422.1 717.9,441.7 718.9,459.2 719.9,441.7 720.9,418.2 721.8,388.9 722.8,379.1 724.2,359.5 725.8,345.9 726.7,355.6 728.1,330.2 729.7,321.4 731.2,338.0 732.6,328.3 734.0,334.1 735.5,347.8 737.1,379.1 738.5,409.4 739.8,388.9 741.0,369.3 742.4,388.9 743.3,406.5 744.7,388.9 745.9,359.5 747.3,309.1 749.2,279.8 750.2,252.0 751.6,268.0 753.1,297.4 754.7,277.8 756.1,258.3 757.4,249.5 759.0,258.3 760.6,264.1 761.9,268.0 763.3,281.7 764.9,297.4 767.2,343.3 769.2,262.2 770.7,256.3 772.3,258.3 773.7,266.1 775.0,277.8 776.6,281.7 778.1,277.8 779.5,258.3 780.9,238.7 782.4,228.9 783.8,222.1 785.0,220.1 786.0,230.9 786.7,248.5 787.3,270.0 788.1,309.1 788.9,340.0 789.9,359.5 791.2,379.1 792.2,391.8 793.8,379.1 795.2,359.5 796.5,369.3 798.1,388.9 799.1,402.6 800.0,379.1 801.0,351.7 802.4,363.5 804.0,367.4 805.5,359.5 806.9,379.1 807.9,402.6 809.4,398.6 810.8,422.1 812.2,563.3 813.7,563.3 815.3,446.0 816.1,429.9 816.7,379.1 817.6,340.0 818.6,326.7 820.6,328.7 821.9,344.3 823.5,328.7 825.1,320.8 826.4,336.5 828.0,348.2 826.1,334.5 827.4,348.2 828.8,353.1 830.4,344.3 831.9,332.6 833.3,318.9 834.3,299.3 835.3,279.8 836.2,270.0 837.2,251.7 838.8,245.8 840.2,249.7 841.7,228.2 843.1,198.9 844.5,185.2 846.0,177.4 848.0,179.3 849.9,181.3 851.9,176.4 853.5,175.4 854.8,183.2 856.2,192.0 857.8,194.0 859.3,188.1 861.3,179.3 862.6,183.2 864.2,189.1 865.6,185.2 866.5,175.4 868.5,176.4 870.5,173.5 872.4,172.5 874.0,179.3 875.3,188.1 876.9,191.1 878.9,185.2 880.2,187.1 882.2,190.1 883.6,191.1 884.7,194.0 885.7,206.7"/>
<polyline stroke="#2ca02c" points="238.5,73.0 240.0,190.0 241.5,250.0 243.0,310.0 244.6,370.0 246.5,430.0 248.5,546.0 249.0,575.0 269.0,575.0 269.5,546.0 272.5,490.0 273.9,469.1 275.4,454.4 276.9,446.1 278.8,449.5 280.3,455.4 281.3,469.1 282.3,480.8 283.0,490.0 285.2,519.3 286.7,535.9 288.6,536.9 290.6,524.2 292.5,509.6 295.5,492.9 296.4,490.0 297.9,476.9 299.4,464.2 300.8,455.4 302.3,461.3 304.2,464.2 305.7,474.0 307.0,487.0 309.1,519.3 311.1,542.8 313.0,545.7 315.0,538.9 317.0,509.6 318.4,490.0 319.4,469.1 320.4,449.5 321.4,434.9 322.3,427.0 323.5,422.0 325.0,432.0 326.5,445.0 328.0,453.5 331.9,453.5 333.9,458.3 335.8,462.3 338.8,466.2 340.7,472.0 342.7,481.8 344.1,478.9 346.1,469.1 347.6,454.4 349.0,439.8 350.0,430.0 350.5,409.1 352.4,394.4 354.4,381.7 355.9,375.4 357.3,384.7 359.3,387.6 361.2,402.3 363.2,396.4 365.6,393.5 367.1,381.7 369.1,372.9 371.0,368.5 372.5,366.2 375.9,368.7 378.8,366.7 381.3,360.8 383.7,354.0 386.2,352.0 388.1,346.2 389.6,340.3 391.3,337.9 393.0,342.3 394.5,354.0 395.9,364.7 396.9,370.0 398.4,375.9 399.8,387.6 401.3,398.3 402.8,405.2 404.7,407.6 406.2,403.2 407.7,392.5 409.1,388.6 410.6,386.6 412.1,389.6 414.0,390.5 415.5,384.7 417.0,376.8 417.9,370.0 419.4,356.0 420.9,346.2 422.3,339.3 424.3,336.4 426.2,337.9 428.0,340.3 430.0,360.8 431.9,361.8 435.8,356.9 439.7,353.0 443.6,350.1 446.6,349.1 448.5,344.2 450.5,353.0 452.4,366.7 454.4,382.3 456.3,390.2 459.3,384.3 461.2,372.6 463.2,355.0 465.1,339.3 468.1,328.6 470.0,335.4 472.0,349.1 474.9,364.7 477.9,368.7 480.8,378.4 483.7,384.3 485.7,385.3 488.6,380.4 491.5,366.7 493.5,349.1 495.4,333.5 498.0,324.7 499.9,333.5 501.9,355.0 503.9,374.5 505.8,381.4 508.2,378.4 511.1,372.6 513.0,358.9 515.0,345.2 517.0,339.3 519.9,338.3 522.8,334.4 525.8,333.5 528.7,331.5 531.6,325.6 534.5,322.7 537.5,327.6 540.4,337.4 543.3,349.1 545.3,357.9 548.2,355.0 551.2,352.0 554.1,345.2 557.0,339.3 559.0,331.5 560.9,321.7 562.9,313.9 564.9,308.0 567.2,304.9 569.7,309.0 572.7,321.7 574.6,335.4 576.6,338.3 579.5,336.4 582.4,330.5 585.4,321.7 588.3,317.8 591.2,321.7 594.2,331.5 596.1,343.2 598.1,353.0 600.0,357.9 603.0,355.9 605.9,352.0 607.9,341.3 609.8,338.3 612.8,339.3 615.7,334.4 618.6,339.3 620.6,333.5 622.5,328.6 624.5,324.7 626.4,319.8 628.0,313.9 628.6,301.3 630.9,301.3 633.9,306.2 636.8,304.2 638.8,297.4 640.7,289.6 642.7,286.6 644.6,293.5 646.6,300.1 649.5,312.0 652.4,317.9 655.4,312.0 657.3,304.2 659.3,301.3 662.2,299.3 665.1,294.4 667.1,289.6 669.1,293.5 672.0,291.5 674.9,290.5 677.9,293.5 679.8,291.5 681.8,295.4 683.7,305.2 685.7,316.9 687.6,322.8 690.6,323.8 693.5,319.9 695.4,309.1 697.4,300.3 699.4,299.3 702.3,302.3 704.2,301.3 706.2,295.4 708.2,289.6 709.7,284.7 711.7,295.4 713.0,309.1 715.0,328.7 717.0,352.1 718.9,371.7 720.3,387.3 721.5,414.3 723.8,404.5 725.8,390.8 727.7,375.2 729.7,359.5 732.6,349.8 735.1,345.9 737.5,349.8 740.4,353.7 742.4,364.4 744.3,367.4 746.3,356.0 748.2,340.4 750.2,324.7 752.1,315.0 754.1,299.3 756.1,281.7 758.0,277.8 760.9,278.8 762.9,276.8 764.9,277.8 766.8,289.6 768.8,297.4 771.7,292.5 774.6,286.6 776.6,277.8 778.5,270.0 780.5,267.1 782.4,262.2 784.4,253.4 785.4,252.8 787.3,264.1 789.3,270.0 790.7,285.6 792.2,305.2 793.8,328.7 795.2,340.0 796.5,355.6 798.5,367.4 800.4,370.3 803.0,369.3 804.9,368.3 806.9,374.2 808.8,376.2 810.8,386.9 811.8,404.5 812.8,422.1 814.1,437.7 815.3,444.6 816.7,437.7 818.6,426.0 820.6,418.2 821.9,408.4 823.1,388.9 824.5,369.3 825.8,349.8 827.4,336.1 827.4,333.5 829.4,338.4 831.4,339.4 833.9,336.5 835.9,328.7 837.2,318.9 838.6,305.2 840.2,289.6 841.7,275.9 843.1,247.8 845.0,228.2 847.0,210.6 849.0,196.9 850.9,187.1 852.9,181.3 854.8,180.3 856.8,183.2 859.7,185.2 861.7,184.2 864.6,187.1 866.5,185.2 869.5,181.3 872.4,177.4 874.4,176.4 877.3,179.3 879.6,181.3 882.2,185.2 884.1,188.1 886.1,192.0"/>
</g>
<rect x="128.00" y="73.68" width="793.60" height="472.78" fill="none" stroke="#000" stroke-width="1.14"/>
<text x="143.97" y="567.6" textLength="40.2" lengthAdjust="spacing">21/01</text>
<text x="288.27" y="567.6" textLength="40.2" lengthAdjust="spacing">22/01</text>
<text x="432.57" y="567.6" textLength="40.2" lengthAdjust="spacing">23/01</text>
<text x="576.87" y="567.6" textLength="40.2" lengthAdjust="spacing">24/01</text>
<text x="721.17" y="567.6" textLength="40.2" lengthAdjust="spacing">25/01</text>
<text x="865.47" y="567.6" textLength="40.2" lengthAdjust="spacing">26/01</text>
<text x="118" y="144.09" text-anchor="end">5</text>
<text x="101.4" y="225.60" textLength="16.8" lengthAdjust="spacing">10</text>
<text x="101.4" y="307.12" textLength="16.8" lengthAdjust="spacing">15</text>
<text x="101.4" y="388.63" textLength="16.8" lengthAdjust="spacing">20</text>
<text x="101.4" y="470.15" textLength="16.8" lengthAdjust="spacing">25</text>
<text x="101.4" y="551.66" textLength="16.8" lengthAdjust="spacing">30</text>
<text x="524.8" y="586" text-anchor="middle">日付</text>
<text transform="translate(92,310.5) rotate(-90)" text-anchor="middle">掲載順位</text>
<rect x="761.2" y="80.8" width="153.3" height="68.2" rx="2.8" fill="#fff" fill-opacity="0.8" stroke="#ccc" stroke-width="1.14"/>
<path d="M766.9 92.30h28.4" stroke="#1f77b4" stroke-width="2.13" stroke-linecap="square" fill="none"/>
<text x="806.7" y="97.30">掲載順位</text>
<path d="M766.9 113.80h28.4" stroke="#ff7f0e" stroke-width="2.13" stroke-linecap="square" fill="none"/>
<text x="806.7" y="118.80" textLength="92.2">移動平均 (7日)</text>
<path d="M766.9 135.30h28.4" stroke="#2ca02c" stroke-width="2.13" stroke-linecap="square" fill="none"/>
<text x="806.7" y="140.30" textLength="100.9">移動平均 (28日)</text>
</svg></body></html>
